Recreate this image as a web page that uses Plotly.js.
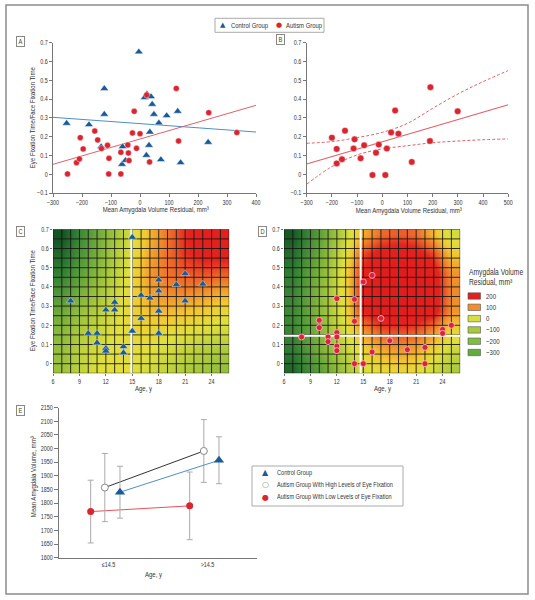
<!DOCTYPE html>
<html><head><meta charset="utf-8">
<script src="https://cdn.plot.ly/plotly-3.0.1.min.js"></script>
<style>html,body{margin:0;padding:0;background:#fff}#chart{width:535px;height:600px}</style>
</head><body><div id="chart"></div>
<script>
// ---------- Panel A ----------
const ctrlResidA = [-253, -176, -123, -123, -134, -60, -62, -50, -4, 24, 16, 38, 42, 48, 34, 31, 22, 72, 65, 92, 130, 140, 235];
const ctrlFixA   = [0.271, 0.264, 0.456, 0.319, 0.147, 0.147, 0.053, 0.074, 0.651, 0.427, 0.408, 0.413, 0.372, 0.319, 0.225, 0.154, 0.101, 0.078, 0.273, 0.312, 0.335, 0.062, 0.170];
const autResidA  = [-250, -206, -219, -209, -196, -156, -146, -133, -112, -107, -108, -66, -66, -42, -40, -38, -26, -20, -12, 0, 23, 33, 125, 133, 237, 334];
const autFixA    = [0.002, 0.195, 0.062, 0.082, 0.135, 0.230, 0.183, 0.137, 0.154, 0.085, 0.002, 0.002, 0.117, 0.156, 0.113, 0.073, 0.220, 0.335, 0.138, 0.216, 0.422, 0.066, 0.457, 0.177, 0.328, 0.222];
const fitXA      = [-300, 400];
const ctrlFitYA  = [0.303, 0.225];
const autFitYA   = [0.053, 0.367];

// ---------- Panel B ----------
const autResidB = [-200, -181, -181, -160, -148, -110, -114, -86, -72, -39, -25, -14, 12, 18, 35, 51, 64, 117, 191, 189, 299];
const autFixB   = [0.195, 0.135, 0.058, 0.080, 0.232, 0.186, 0.137, 0.085, 0.154, -0.004, 0.115, 0.158, -0.004, 0.137, 0.223, 0.339, 0.216, 0.066, 0.463, 0.177, 0.335];
const fitXB     = [-300, 500];
const autFitYB  = [0.055, 0.370];
const ciX       = [-300, -200, -100, 0, 100, 200, 300, 400, 500];
const ciUpper   = [0.165, 0.174, 0.195, 0.223, 0.271, 0.351, 0.427, 0.493, 0.552];
const ciLower   = [-0.053, 0.041, 0.103, 0.135, 0.152, 0.168, 0.177, 0.184, 0.188];

// ---------- Surfaces (C, D) ----------
const surfAge = [7, 9, 11, 13, 15, 17, 19, 21, 23, 25];
const surfFix = [-0.025, 0.075, 0.175, 0.275, 0.375, 0.475, 0.575, 0.675];
const ctrlSurface = [
  [-100, -50, -5, 10, 0, -20, -45, -70, -90, -110],
  [-110, -55, -15, 5, 10, 0, -20, -40, -60, -75],
  [-130, -75, -35, -5, 20, 25, 15, 5, -10, -20],
  [-170, -110, -60, -15, 30, 60, 65, 55, 40, 20],
  [-230, -160, -95, -35, 30, 90, 110, 115, 105, 85],
  [-290, -205, -125, -55, 20, 95, 130, 150, 160, 150],
  [-340, -240, -150, -70, 5, 85, 135, 180, 205, 210],
  [-385, -270, -170, -90, -10, 70, 130, 185, 215, 225]
];
const autSurface = [
  [-340, -245, -160, -80, -15, 20, 30, 20, -25, -75],
  [-295, -200, -115, -40, 30, 80, 100, 85, 30, -30],
  [-270, -180, -95, -5, 100, 155, 165, 155, 105, 30],
  [-265, -175, -85, 25, 190, 235, 245, 240, 215, 100],
  [-275, -180, -85, 35, 205, 250, 255, 250, 225, 110],
  [-295, -195, -95, 30, 195, 245, 255, 245, 215, 100],
  [-330, -225, -115, 5, 160, 215, 230, 215, 160, 50],
  [-370, -260, -145, -30, 75, 135, 150, 135, 65, -20]
];

// ---------- Panel C ----------
const ctrlAge  = [8, 10, 11, 11, 12, 12, 12, 13, 13, 14, 14, 15, 15, 16, 16, 17, 18, 18, 18, 18, 20, 21, 21, 23];
const ctrlFixC = [0.327, 0.158, 0.158, 0.109, 0.280, 0.080, 0.066, 0.320, 0.280, 0.089, 0.057, 0.658, 0.170, 0.236, 0.356, 0.342, 0.436, 0.379, 0.274, 0.158, 0.412, 0.469, 0.327, 0.415];
const ageCutC  = 14.9;

// ---------- Panel D ----------
const autAge  = [8, 10, 10, 11, 11, 12, 12, 12, 12, 12, 14, 14, 15, 16, 18, 20, 22, 22, 24, 24, 25, 14, 15, 16, 17];
const autFixD = [0.139, 0.226, 0.188, 0.139, 0.115, 0.339, 0.162, 0.139, 0.092, 0.068, 0.221, 0.0, 0.0, 0.061, 0.120, 0.073, 0.085, 0.0, 0.179, 0.158, 0.200, 0.335, 0.426, 0.460, 0.236];
const ageCutD = 14.7;
const fixCutD = 0.145;
const legendLevels = ['200', '100', '0', '\u2212100', '\u2212200', '\u2212300'];
const legendColors = ['#e3201f', '#f08f2c', '#d5e03e', '#a6cb3d', '#82bd40', '#62ac3e'];

// ---------- Panel E ----------
const ageGroups = ['\u226414.5', '>14.5'];
const ctrlVol = [1840, 1957], ctrlErr = [95, 86];
const highVol = [1857, 1991], highErr = [125, 115];
const lowVol  = [1769, 1790], lowErr  = [115, 124];

// ================= build =================
const W = 535, H = 600;
const X = p => p / W, Y = p => 1 - p / H;
const FONT = '"Liberation Sans", Arial, sans-serif';
const NARROW = 0.82;   // condensed look of the original typeface
const BLUE = '#1b5a98', RED = '#d9252f';
const tickFont = {family: FONT, size: 6.6, color: '#333'};

const surfColors = [
  [0, '#0f4a20'], [0.1538, '#2e7a33'], [0.3077, '#5c9f3a'], [0.4615, '#9cc23c'],
  [0.6154, '#e0e03c'], [0.6923, '#f2c832'], [0.7692, '#f0952c'], [0.8462, '#ec5a28'], [0.9077, '#e4241f'], [1, '#e01d1d']
];

function gridTrace(xa, ya, x0, x1, nx, y0, y1, ny) {
  const xs = [], ys = [];
  for (let i = 0; i <= nx; i++) { const x = x0 + (x1 - x0) * i / nx; xs.push(x, x, null); ys.push(y0, y1, null); }
  for (let j = 0; j <= ny; j++) { const y = y0 + (y1 - y0) * j / ny; xs.push(x0, x1, null); ys.push(y, y, null); }
  return {type: 'scatter', mode: 'lines', x: xs, y: ys, xaxis: xa, yaxis: ya,
    line: {color: 'rgba(20,20,15,0.85)', width: 1}};
}

const traces = [];
// A
traces.push({type: 'scatter', mode: 'lines', x: fitXA, y: ctrlFitYA, xaxis: 'x', yaxis: 'y', line: {color: '#4a90c8', width: 1}});
traces.push({type: 'scatter', mode: 'lines', x: fitXA, y: autFitYA, xaxis: 'x', yaxis: 'y', line: {color: '#e0606a', width: 1}});
traces.push({type: 'scatter', mode: 'markers', x: ctrlResidA, y: ctrlFixA, xaxis: 'x', yaxis: 'y',
  marker: {symbol: 'triangle-up', size: 7.5, color: BLUE, line: {color: '#fff', width: 0.4}}});
traces.push({type: 'scatter', mode: 'markers', x: autResidA, y: autFixA, xaxis: 'x', yaxis: 'y',
  marker: {symbol: 'circle', size: 6, color: RED, line: {color: '#fff', width: 0.4}}});
// B
traces.push({type: 'scatter', mode: 'lines', x: ciX, y: ciUpper, xaxis: 'x2', yaxis: 'y2', line: {color: '#e0606a', width: 1, dash: '3px,2px', shape: 'spline'}});
traces.push({type: 'scatter', mode: 'lines', x: ciX, y: ciLower, xaxis: 'x2', yaxis: 'y2', line: {color: '#e0606a', width: 1, dash: '3px,2px', shape: 'spline'}});
traces.push({type: 'scatter', mode: 'lines', x: fitXB, y: autFitYB, xaxis: 'x2', yaxis: 'y2', line: {color: '#e0606a', width: 1.2}});
traces.push({type: 'scatter', mode: 'markers', x: autResidB, y: autFixB, xaxis: 'x2', yaxis: 'y2',
  marker: {symbol: 'circle', size: 6.5, color: RED, line: {color: '#fff', width: 0.4}}});
// C
traces.push({type: 'heatmap', x: surfAge, y: surfFix, z: ctrlSurface, xaxis: 'x3', yaxis: 'y3',
  colorscale: surfColors, zmin: -400, zmax: 250, zsmooth: 'best', showscale: false});
traces.push(gridTrace('x3', 'y3', 6, 26, 20, -0.05, 0.7, 15));
traces.push({type: 'scatter', mode: 'lines', x: [ageCutC, ageCutC], y: [-0.05, 0.7], xaxis: 'x3', yaxis: 'y3', line: {color: '#fff', width: 2}});
traces.push({type: 'scatter', mode: 'markers', x: ctrlAge, y: ctrlFixC, xaxis: 'x3', yaxis: 'y3',
  marker: {symbol: 'triangle-up', size: 7.5, color: BLUE, line: {color: '#fff', width: 0.4}}});
// D
traces.push({type: 'heatmap', x: surfAge, y: surfFix, z: autSurface, xaxis: 'x4', yaxis: 'y4',
  colorscale: surfColors, zmin: -400, zmax: 250, zsmooth: 'best', showscale: false});
traces.push(gridTrace('x4', 'y4', 6, 26, 20, -0.05, 0.7, 15));
traces.push({type: 'scatter', mode: 'lines', x: [ageCutD, ageCutD], y: [-0.05, 0.7], xaxis: 'x4', yaxis: 'y4', line: {color: '#fff', width: 2}});
traces.push({type: 'scatter', mode: 'lines', x: [6, 26], y: [fixCutD, fixCutD], xaxis: 'x4', yaxis: 'y4', line: {color: '#fff', width: 2}});
traces.push({type: 'scatter', mode: 'markers', x: autAge, y: autFixD, xaxis: 'x4', yaxis: 'y4',
  marker: {symbol: 'circle', size: 6, color: RED, line: {color: '#fbd', width: 0.8}}});
// E
const offLow = -0.18, offHigh = -0.037, offCtrl = 0.116;
const catIdx = ageGroups.map((_, i) => i);
traces.push({type: 'scatter', mode: 'lines+markers', x: catIdx.map(i => i + offLow), y: lowVol, xaxis: 'x5', yaxis: 'y5',
  line: {color: '#e8505c', width: 1}, marker: {symbol: 'circle', size: 7, color: RED},
  error_y: {type: 'data', array: lowErr, color: '#aaa', thickness: 1, width: 3}});
traces.push({type: 'scatter', mode: 'lines+markers', x: catIdx.map(i => i + offHigh), y: highVol, xaxis: 'x5', yaxis: 'y5',
  line: {color: '#333', width: 1}, marker: {symbol: 'circle', size: 7, color: '#fff', line: {color: '#888', width: 1}},
  error_y: {type: 'data', array: highErr, color: '#aaa', thickness: 1, width: 3}});
traces.push({type: 'scatter', mode: 'lines+markers', x: catIdx.map(i => i + offCtrl), y: ctrlVol, xaxis: 'x5', yaxis: 'y5',
  line: {color: '#4d8fc6', width: 1}, marker: {symbol: 'triangle-up', size: 9, color: BLUE},
  error_y: {type: 'data', array: ctrlErr, color: '#aaa', thickness: 1, width: 3}});
traces.forEach(t => { t.showlegend = false; t.hoverinfo = 'skip'; });

function ax(extra) {
  return Object.assign({showgrid: false, zeroline: false, showline: true, linecolor: '#777', linewidth: 1,
    ticks: 'outside', ticklen: 3, tickwidth: 1, tickcolor: '#777', tickfont: tickFont, fixedrange: true}, extra);
}
function heatAx(extra) {
  return Object.assign({showgrid: false, zeroline: false, showline: false, ticks: 'outside', ticklen: 2,
    tickcolor: '#777', tickfont: tickFont, fixedrange: true}, extra);
}

const yA = [Y(193.1), Y(42.7)], yC = [Y(373.3), Y(229.3)];
const layout = {
  width: W, height: H, margin: {l: 0, r: 0, t: 0, b: 0}, paper_bgcolor: '#fff', plot_bgcolor: 'rgba(0,0,0,0)',
  showlegend: false, font: {family: FONT, size: 7, color: '#333'},
  xaxis:  ax({domain: [X(53), X(256)], range: [-300, 400], dtick: 100, tick0: -300, ticklabelstandoff: -3.5, anchor: 'y'}),
  yaxis:  ax({domain: yA, range: [-0.1, 0.7], dtick: 0.1, tick0: -0.1, anchor: 'x'}),
  xaxis2: ax({domain: [X(306.7), X(508.3)], range: [-300, 500], dtick: 100, tick0: -300, ticklabelstandoff: -3.5, anchor: 'y2'}),
  yaxis2: ax({domain: yA, range: [-0.1, 0.7], dtick: 0.1, tick0: -0.1, anchor: 'x2'}),
  xaxis3: heatAx({domain: [X(53), X(229.2)], range: [6, 26], dtick: 3, tick0: 6, ticklabelstandoff: -3.5, anchor: 'y3'}),
  yaxis3: heatAx({domain: yC, range: [-0.05, 0.7], dtick: 0.1, tick0: 0, anchor: 'x3'}),
  xaxis4: heatAx({domain: [X(284), X(460.2)], range: [6, 26], dtick: 3, tick0: 6, ticklabelstandoff: -3.5, anchor: 'y4'}),
  yaxis4: heatAx({domain: yC, range: [-0.05, 0.7], dtick: 0.1, tick0: 0, anchor: 'x4'}),
  xaxis5: ax({domain: [X(59), X(257)], range: [-0.5, 1.5], tickvals: catIdx, ticktext: ageGroups, ticks: '', anchor: 'y5'}),
  yaxis5: ax({domain: [Y(557.7), Y(407.6)], range: [1600, 2150], dtick: 50, tick0: 1600, ticklen: 4, anchor: 'x5'}),
  shapes: [], annotations: []
};

function txt(text, x, y, o) {
  return Object.assign({xref: 'paper', yref: 'paper', x: X(x), y: Y(y), text: text, showarrow: false,
    font: {family: FONT, size: 7.4, color: '#333'}, xanchor: 'center', yanchor: 'middle'}, o || {});
}
function ltxt(text, x, y, size) {
  return txt(text, x, y, {xanchor: 'left', align: 'left', font: {family: FONT, size: size, color: '#333'}});
}
const A = layout.annotations, S = layout.shapes;
// outer frame
S.push({type: 'rect', xref: 'paper', yref: 'paper', x0: X(6), x1: X(528), y0: Y(594), y1: Y(5), line: {color: '#8c8c8c', width: 1.5}});
// panel letters
[['A', 20.5, 41], ['B', 280, 40], ['C', 20.5, 231], ['D', 262, 231], ['E', 20.5, 410]].forEach(p =>
  A.push(txt(p[0], p[1], p[2], {bordercolor: '#888', borderwidth: 1, borderpad: 1, font: {family: FONT, size: 7, color: '#444'}})));
// axis titles
const yTitle = 'Eye Fixation Time/Face Fixation Time';
const xResTitle = 'Mean Amygdala Volume Residual, mm\u00b3';
A.push(txt(yTitle, 32.3, 118, {textangle: -90}));
A.push(txt(xResTitle, 156, 209.5));
A.push(txt(xResTitle, 409, 210));
A.push(txt(yTitle, 32.3, 301, {textangle: -90}));
A.push(txt('Age, y', 143, 388.5));
A.push(txt('Age, y', 382, 388.5));
A.push(txt('Mean Amygdala Volume, mm\u00b3', 33, 477, {textangle: -90}));
A.push(txt('Age, y', 153, 574.5));
// top legend
S.push({type: 'rect', xref: 'paper', yref: 'paper', x0: X(215), x1: X(324), y0: Y(32.3), y1: Y(18.3), line: {color: '#aaa', width: 1}});
A.push(txt('\u25b2', 223, 25.3, {font: {family: 'DejaVu Sans', size: 7, color: BLUE}}));
A.push(ltxt('Control Group', 229, 25.5, 7.2));
A.push(txt('\u25cf', 279.3, 25.5, {font: {family: 'DejaVu Sans', size: 7, color: RED}}));
A.push(ltxt('Autism Group', 284, 25.5, 7.2));
// D legend
A.push(ltxt('Amygdala Volume', 466.5, 272, 8.2));
A.push(ltxt('Residual, mm\u00b3', 466.5, 282.5, 8.2));
legendLevels.forEach((lab, i) => {
  const yc = 296 + 11.3 * i;
  S.push({type: 'rect', xref: 'paper', yref: 'paper', x0: X(468), x1: X(480.5), y0: Y(yc + 3.2), y1: Y(yc - 3.2),
    fillcolor: legendColors[i], line: {color: '#555', width: 0.6}});
  A.push(ltxt(lab, 484, yc, 7.4));
});
// E legend
S.push({type: 'rect', xref: 'paper', yref: 'paper', x0: X(252), x1: X(403), y0: Y(506), y1: Y(466), line: {color: '#aaa', width: 1}});
const eRows = [
  ['\u25b2', BLUE, 'Control Group'],
  ['\u25cb', '#888', 'Autism Group With High Levels of Eye Fixation'],
  ['\u25cf', RED, 'Autism Group With Low Levels of Eye Fixation']
];
eRows.forEach((r, i) => {
  const yc = 472.5 + 12.3 * i;
  A.push(txt(r[0], 265, yc, {font: {family: 'DejaVu Sans', size: 8, color: r[1]}}));
  A.push(ltxt(r[2], 275, yc, 6.8));
});

const SYMBOLS = ['\u25b2', '\u25cb', '\u25cf'];
Plotly.newPlot('chart', traces, layout, {displayModeBar: false, staticPlot: true}).then(gd => {
  // give the text the condensed proportions of the original typeface
  gd.querySelectorAll('text').forEach(t => {
    if (SYMBOLS.includes(t.textContent.trim())) return;
    const len = t.getComputedTextLength();
    if (len > 0) {
      t.setAttribute('lengthAdjust', 'spacingAndGlyphs');
      t.setAttribute('textLength', (len * NARROW).toFixed(2));
    }
  });
});
</script></body></html>
